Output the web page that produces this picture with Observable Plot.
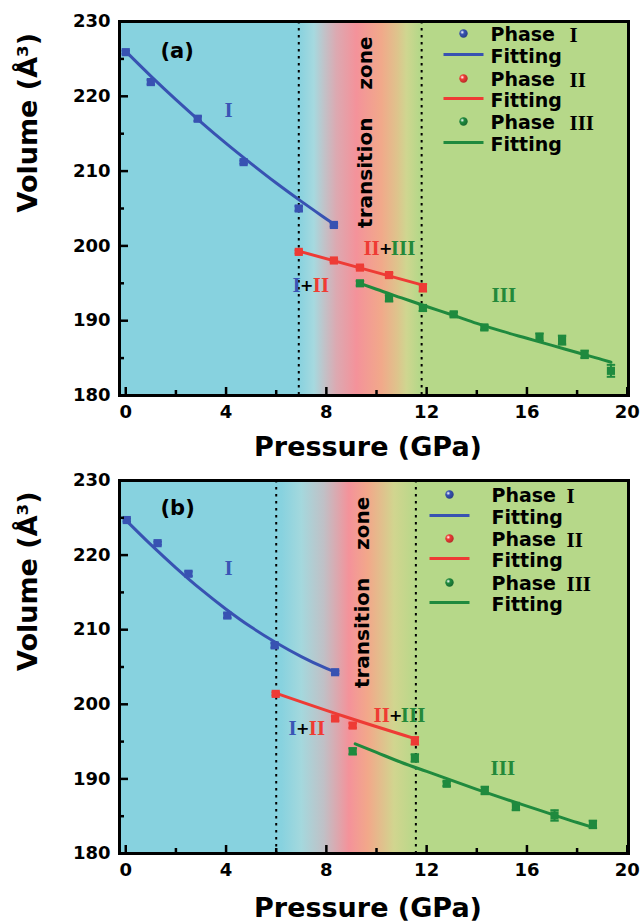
<!DOCTYPE html>
<html><head><meta charset="utf-8">
<script src="https://cdn.jsdelivr.net/npm/d3@7"></script>
<script src="https://cdn.jsdelivr.net/npm/@observablehq/plot@0.6"></script>
<style>
body{margin:0;background:#fff}
#chart svg{display:block}
</style>
</head><body><div id="chart"></div>
<script>
// ================= DATA =================
const xTicks = [0, 4, 8, 12, 16, 20];
const xMinor = [2, 6, 10, 14, 18];
const yTicks = [180, 190, 200, 210, 220, 230];
const yMinor = [185, 195, 205, 215, 225];
const phaseNames = ["I", "II", "III"];

// ---- panel (a) ----
const aI_P   = [0, 1.0, 2.87, 4.7, 6.9, 8.3];
const aI_V   = [225.9, 221.9, 217.0, 211.2, 205.0, 202.8];
const aI_E   = [0.2, 0.3, 0.3, 0.2, 0.3, 0.2];
const aII_P  = [6.9, 8.3, 9.34, 10.5, 11.85];
const aII_V  = [199.2, 198.05, 197.1, 196.1, 194.4];
const aII_E  = [0.2, 0.2, 0.2, 0.3, 0.5];
const aIII_P = [9.34, 10.5, 11.85, 13.08, 14.3, 16.5, 17.4, 18.3, 19.35];
const aIII_V = [195.0, 193.0, 191.7, 190.85, 189.1, 187.8, 187.4, 185.5, 183.3];
const aIII_E = [0.3, 0.4, 0.4, 0.3, 0.3, 0.5, 0.6, 0.5, 0.8];
const aFitI_P   = [0, 1, 2, 3, 4, 5, 6, 7, 8, 8.3];
const aFitI_V   = [226.0, 222.7, 219.55, 216.55, 213.7, 211.0, 208.4, 205.95, 203.6, 202.9];
const aFitII_P  = [6.9, 9.3, 11.85];
const aFitII_V  = [199.3, 197.1, 194.75];
const aFitIII_P = [9.34, 10, 11, 12, 13, 14, 15, 16, 17, 18, 19, 19.35];
const aFitIII_V = [195.0, 194.2, 193.05, 191.9, 190.8, 189.65, 188.6, 187.65, 186.7, 185.75, 184.8, 184.45];
const aBounds = [6.9, 11.8];
const aBgStopP = [6.9, 7.5, 7.9, 8.4, 9.2, 10.2, 10.8, 11.2, 11.7];
const aBgStopC = ["#87d2df", "#a6d9df", "#c0c3c9", "#dca9b1", "#f4929a", "#f1a98a", "#dfc28c", "#cfd690", "#b6d889"];

// ---- panel (b) ----
const bI_P   = [0.04, 1.27, 2.5, 4.05, 5.94, 8.35];
const bI_V   = [224.7, 221.6, 217.5, 211.9, 207.9, 204.3];
const bI_E   = [0.2, 0.2, 0.3, 0.3, 0.3, 0.2];
const bII_P  = [5.98, 8.35, 9.05, 11.53];
const bII_V  = [201.4, 198.1, 197.15, 195.1];
const bII_E  = [0.2, 0.3, 0.3, 0.5];
const bIII_P = [9.05, 11.53, 12.8, 14.32, 15.56, 17.1, 18.63];
const bIII_V = [193.7, 192.8, 189.35, 188.45, 186.3, 185.1, 183.9];
const bIII_E = [0.4, 0.5, 0.3, 0.5, 0.5, 0.7, 0.5];
const bFitI_P   = [0, 1, 2, 3, 4, 5, 6, 7, 8, 8.35];
const bFitI_V   = [224.7, 221.4, 218.3, 215.4, 212.75, 210.35, 208.25, 206.4, 204.8, 204.3];
const bFitII_P  = [5.98, 8.7, 11.53];
const bFitII_V  = [201.5, 198.4, 195.4];
const bFitIII_P = [9.15, 10, 11, 12, 13, 14, 15, 16, 17, 18, 18.63];
const bFitIII_V = [194.7, 193.55, 192.2, 191.0, 189.8, 188.6, 187.45, 186.35, 185.25, 184.15, 183.5];
const bBounds = [6.0, 11.57];
const bBgStopP = [6.2, 7.0, 7.9, 8.9, 9.65, 10.7, 11.6];
const bBgStopC = ["#87d2df", "#a4d8dd", "#c0c0c6", "#f4929a", "#f2a88a", "#d1d58f", "#b6d889"];

// annotation anchors (data coordinates)
const aNotes = {I: [4.1, 218.1], I_II: [7.22, 194.7], II_III: [10.37, 199.65], III: [15.08, 193.37], zone: [9.57, 215.2]};
const bNotes = {I: [4.1, 218.2], I_II: [7.06, 196.75], II_III: [10.77, 198.5], III: [15.04, 191.4], zone: [9.45, 215.0]};

// ================= STYLE =================
const COL = {I: "#3852b2", II: "#ee3b35", III: "#1f8a3e"};
const TXT = {I: "#3a55b5", II: "#ef3b33", III: "#23893a"};
const SANS = "DejaVu Sans";
const SERIF = "Liberation Serif";
const W = 640, ML = 119, MR = 12;

const rad = size => Math.sqrt(size / Math.PI);
const hline = {draw(ctx, size) { const r = rad(size); ctx.moveTo(-r, 0); ctx.lineTo(r, 0); }};

function rows(P, V, E) { return P.map((p, i) => ({P: p, V: V[i], E: E ? E[i] : 0})); }

function defsMark(id, stopP, stopC) {
  return (index, scales) => {
    const ns = "http://www.w3.org/2000/svg";
    const defs = document.createElementNS(ns, "defs");
    const lg = document.createElementNS(ns, "linearGradient");
    lg.setAttribute("id", id);
    lg.setAttribute("gradientUnits", "userSpaceOnUse");
    const x0 = scales.x(stopP[0]), x1 = scales.x(stopP[stopP.length - 1]);
    lg.setAttribute("x1", x0); lg.setAttribute("x2", x1);
    lg.setAttribute("y1", 0); lg.setAttribute("y2", 0);
    stopP.forEach((p, i) => {
      const s = document.createElementNS(ns, "stop");
      s.setAttribute("offset", (scales.x(p) - x0) / (x1 - x0));
      s.setAttribute("stop-color", stopC[i]);
      lg.appendChild(s);
    });
    defs.appendChild(lg);
    for (const k of phaseNames) {
      const rg = document.createElementNS(ns, "radialGradient");
      rg.setAttribute("id", id + "sph" + k);
      rg.setAttribute("cx", "0.35"); rg.setAttribute("cy", "0.35"); rg.setAttribute("r", "0.7");
      [["0", "#ffffff"], ["0.35", COL[k]], ["1", d3.color(COL[k]).darker(0.8).formatHex()]].forEach(([o, c]) => {
        const s = document.createElementNS(ns, "stop");
        s.setAttribute("offset", o); s.setAttribute("stop-color", c); rg.appendChild(s);
      });
      defs.appendChild(rg);
    }
    return defs;
  };
}

function seriesMarks(data, fitP, fitV, color) {
  const caps = data.flatMap(d => [{P: d.P, V: d.V - d.E}, {P: d.P, V: d.V + d.E}]);
  return [
    Plot.line(rows(fitP, fitV), {x: "P", y: "V", stroke: color, strokeWidth: 3, curve: "monotone-x"}),
    Plot.ruleX(data, {x: "P", y1: d => d.V - d.E, y2: d => d.V + d.E, stroke: color, strokeWidth: 2}),
    Plot.dot(caps, {x: "P", y: "V", symbol: hline, r: 4.2, stroke: color, strokeWidth: 2}),
    Plot.dot(data, {x: "P", y: "V", symbol: "square", r: 4.6, fill: color, stroke: null})
  ];
}

function noteMarks(n) {
  const t = (str, pos, o) => Plot.text([str], {x: () => pos[0], y: () => pos[1], text: d => d, lineAnchor: "middle", ...o});
  const serif = {fontFamily: SERIF, fontWeight: "bold", fontSize: 21};
  return [
    t("I", n.I, {...serif, fill: TXT.I}),
    t("+", n.I_II, {fontFamily: SANS, fontWeight: "bold", fontSize: 16, fill: "black"}),
    t("I", n.I_II, {...serif, fill: TXT.I, textAnchor: "end", dx: -6}),
    t("II", n.I_II, {...serif, fill: TXT.II, textAnchor: "start", dx: 6}),
    t("+", n.II_III, {fontFamily: SANS, fontWeight: "bold", fontSize: 16, fill: "black"}),
    t("II", n.II_III, {...serif, fill: TXT.II, textAnchor: "end", dx: -6}),
    t("III", n.II_III, {...serif, fill: TXT.III, textAnchor: "start", dx: 5}),
    t("III", n.III, {...serif, fill: TXT.III}),
    t("transition\u00a0\u00a0\u00a0\u00a0zone", n.zone, {fontFamily: SANS, fontWeight: "bold", fontSize: 20, rotate: -90, fill: "black"})
  ];
}

function legendMarks(id, dotDx, textDx, romanDx, rowDy) {
  const marks = [];
  phaseNames.forEach((k, i) => {
    const y1 = rowDy[2 * i], y2 = rowDy[2 * i + 1];
    marks.push(Plot.dot([0], {frameAnchor: "top-left", dx: dotDx, dy: y1 - 1, r: 4.2, fill: `url(#${id}sph${k})`, stroke: null}));
    marks.push(Plot.dot([0], {frameAnchor: "top-left", dx: dotDx, dy: y2 - 2, r: 20, symbol: hline, stroke: COL[k], strokeWidth: 3}));
    marks.push(Plot.text(["Phase"], {frameAnchor: "top-left", dx: textDx, dy: y1, textAnchor: "start", lineAnchor: "middle", fontFamily: SANS, fontWeight: "bold", fontSize: 19, fill: "black"}));
    marks.push(Plot.text([k], {frameAnchor: "top-left", dx: romanDx, dy: y1 + 1, textAnchor: "start", lineAnchor: "middle", fontFamily: SERIF, fontWeight: "bold", fontSize: 21, fill: "black"}));
    marks.push(Plot.text(["Fitting"], {frameAnchor: "top-left", dx: textDx, dy: y2, textAnchor: "start", lineAnchor: "middle", fontFamily: SANS, fontWeight: "bold", fontSize: 19, fill: "black"}));
  });
  return marks;
}

// inward ticks: rules inset from the far side so only a short stub remains at the axis
function tickMarks(ph) {
  const pw = W - ML - MR;
  const st = {stroke: "black", strokeWidth: 2.5};
  return [
    Plot.ruleX(xTicks, {x: d => d, insetTop: ph - 8, ...st}),
    Plot.ruleX(xMinor, {x: d => d, insetTop: ph - 5, ...st}),
    Plot.ruleY(yTicks, {y: d => d, insetRight: pw - 9, ...st}),
    Plot.ruleY(yMinor, {y: d => d, insetRight: pw - 5, ...st})
  ];
}

function panel(cfg) {
  const ph = cfg.height - cfg.mt - cfg.mb;
  return Plot.plot({
    width: W, height: cfg.height,
    marginTop: cfg.mt, marginBottom: cfg.mb, marginLeft: ML, marginRight: MR,
    style: {fontFamily: SANS, fontWeight: "bold", background: "white", overflow: "visible"},
    x: {domain: [-0.25, 20.05]},
    y: {domain: [180, 230]},
    marks: [
      defsMark(cfg.id, cfg.stopP, cfg.stopC),
      Plot.frame({fill: `url(#${cfg.id})`, stroke: "none"}),
      Plot.ruleX(cfg.bounds, {stroke: "black", strokeWidth: 2, strokeDasharray: "2.5,4.5"}),
      ...seriesMarks(cfg.I, cfg.fitI[0], cfg.fitI[1], COL.I),
      ...seriesMarks(cfg.II, cfg.fitII[0], cfg.fitII[1], COL.II),
      ...seriesMarks(cfg.III, cfg.fitIII[0], cfg.fitIII[1], COL.III),
      ...noteMarks(cfg.notes),
      ...legendMarks(cfg.id, cfg.lgDot, cfg.lgText, cfg.lgRoman, cfg.lgRows),
      Plot.text([cfg.tag], {frameAnchor: "top-left", dx: 41, dy: cfg.tagDy, fontFamily: SANS, fontWeight: "bold", fontSize: 21, fill: "black"}),
      Plot.axisX({ticks: xTicks, tickSize: 0, tickPadding: 10, fontSize: 18, fontWeight: "bold", label: null}),
      Plot.axisY({ticks: yTicks, tickSize: 0, tickPadding: 9, fontSize: 18, fontWeight: "bold", label: null}),
      ...tickMarks(ph),
      Plot.text(["Pressure (GPa)"], {frameAnchor: "bottom", dx: -6, dy: cfg.xlabDy, lineAnchor: "middle", fontFamily: SANS, fontWeight: "bold", fontSize: 27, fill: "black"}),
      Plot.text(["Volume (Å³)"], {frameAnchor: "left", dx: -91, dy: 4, rotate: -90, lineAnchor: "middle", fontFamily: SANS, fontWeight: "bold", fontSize: 27, fill: "black"}),
      Plot.frame({stroke: "black", strokeWidth: 3})
    ]
  });
}

const chart = document.getElementById("chart");
chart.appendChild(panel({
  id: "ga", height: 462, mt: 21, mb: 67, tag: "(a)", tagDy: 22, xlabDy: 52,
  stopP: aBgStopP, stopC: aBgStopC, bounds: aBounds,
  I: rows(aI_P, aI_V, aI_E), II: rows(aII_P, aII_V, aII_E), III: rows(aIII_P, aIII_V, aIII_E),
  fitI: [aFitI_P, aFitI_V], fitII: [aFitII_P, aFitII_V], fitIII: [aFitIII_P, aFitIII_V],
  notes: aNotes, lgDot: 344, lgText: 371, lgRoman: 450, lgRows: [13, 35, 58, 79, 101, 123]
}));
chart.appendChild(panel({
  id: "gb", height: 462, mt: 18, mb: 71, tag: "(b)", tagDy: 20, xlabDy: 55,
  stopP: bBgStopP, stopC: bBgStopC, bounds: bBounds,
  I: rows(bI_P, bI_V, bI_E), II: rows(bII_P, bII_V, bII_E), III: rows(bIII_P, bIII_V, bIII_E),
  fitI: [bFitI_P, bFitI_V], fitII: [bFitII_P, bFitII_V], fitIII: [bFitIII_P, bFitIII_V],
  notes: bNotes, lgDot: 330, lgText: 372, lgRoman: 447, lgRows: [15, 37, 59, 80, 103, 124]
}));
</script>
</body></html>
